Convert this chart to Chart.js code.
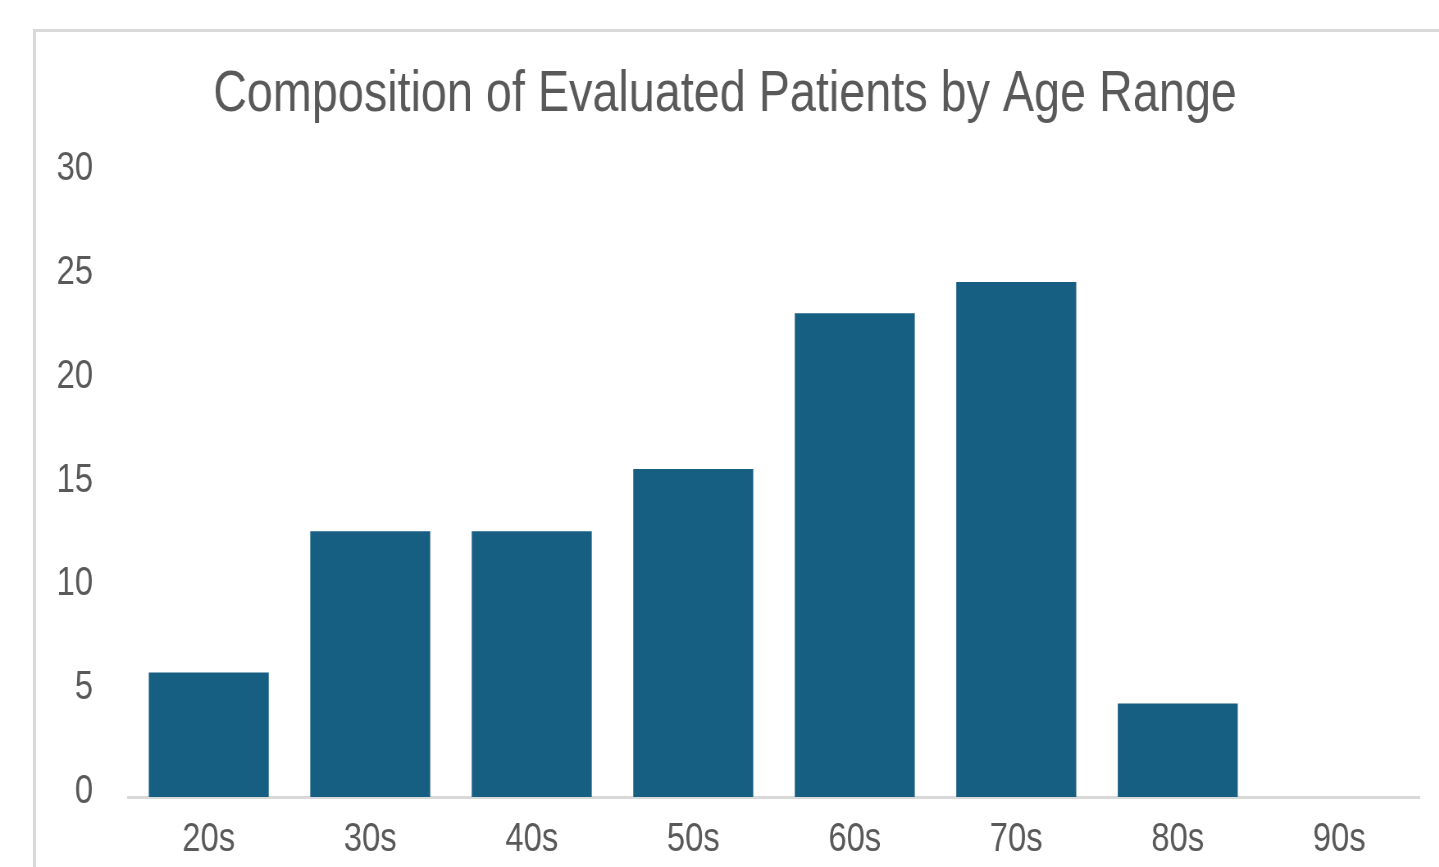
<!DOCTYPE html>
<html>
<head>
<meta charset="utf-8">
<script src="https://cdn.jsdelivr.net/npm/chart.js@4"></script>
<style>
  html, body { margin: 0; padding: 0; background: #fff; overflow: hidden; }
  #frame { position: absolute; left: 33px; top: 29px; width: 1500px; height: 900px; border: 3px solid #d9d9d9; box-sizing: border-box; }
  /* narrow Arial look: Liberation Sans squeezed horizontally */
  #wrap { position: absolute; left: 0; top: 0; width: 1755px; height: 867px; transform: scaleX(0.82); transform-origin: 0 0; }
</style>
</head>
<body>
<div id="frame"></div>
<div id="wrap"><canvas id="myChart"></canvas></div>
<script>
const ages = ['20s', '30s', '40s', '50s', '60s', '70s', '80s', '90s']
const percents = [6.0, 12.8, 12.8, 15.8, 23.3, 24.8, 4.5, 0]
const yTicks = [0, 5, 10, 15, 20, 25, 30]

const FONT = "'Liberation Sans', Arial, sans-serif"
const GREY = '#595959'

document.addEventListener("DOMContentLoaded", _ => {
  const ctx = document.getElementById('myChart')
  new Chart(ctx, {
    type: 'bar',
    data: {
      labels: ages,
      datasets: [{
        data: percents,
        backgroundColor: '#175f82',
        barPercentage: 0.743,
        categoryPercentage: 1
      }]
    },
    options: {
      responsive: true,
      maintainAspectRatio: false,
      animation: false,
      layout: { padding: { left: 36.5, right: 23.3, top: 61, bottom: 0 } },
      plugins: {
        legend: { display: false },
        tooltip: { enabled: false },
        title: {
          display: true,
          text: 'Composition of Evaluated Patients by Age Range',
          color: GREY,
          font: { family: FONT, size: 57, weight: 'normal' },
          padding: { top: 0, bottom: 44.6 }
        }
      },
      scales: {
        x: {
          grid: { display: false, drawTicks: false },
          border: { display: true, color: '#d9d9d9', width: 3 },
          ticks: { color: GREY, font: { family: FONT, size: 40 }, padding: 19 },
          afterFit: s => { s.height = 70 }
        },
        y: {
          min: 0,
          max: 30,
          afterBuildTicks: s => { s.ticks = yTicks.map(v => ({ value: v })) },
          grid: { display: false, drawTicks: false },
          border: { display: false },
          ticks: { color: GREY, font: { family: FONT, size: 40 }, padding: 42.7, labelOffset: -5 },
          afterFit: s => { s.width = 119.6 }
        }
      }
    }
  })
})
</script>
</body>
</html>
